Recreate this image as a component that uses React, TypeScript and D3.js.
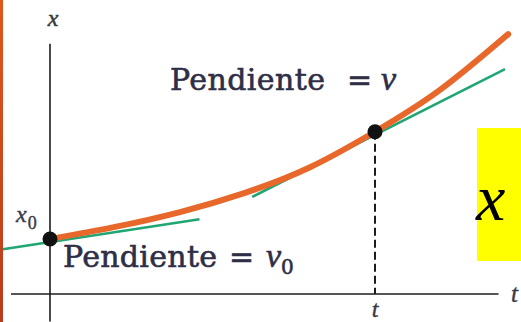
import React from "react";
import * as d3 from "d3";

// Position–time curve x(t), sampled along the drawn path
const timeValues = [0, 2, 4, 6, 8, 10, 12, 14.1];
const positionValues = [2.0, 2.44, 2.98, 3.68, 4.61, 5.9, 7.42, 9.45];

// Marked instants (start and t) and their positions
const markedTimes = [0, 10];
const markedPositions = [2.0, 5.9];

// Tangent segments (endpoints in t, x)
const tangentInitialT = [-1.45, 4.6];
const tangentInitialX = [1.63, 2.72];
const tangentLaterT = [6.22, 14.0];
const tangentLaterX = [3.53, 8.18];

// Axis extents
const timeAxisExtent = [-1.2, 13.8];
const positionAxisExtent = [-1.0, 9.1];

const W = 521;
const H = 322;

export default function App() {
  const tScale = d3.scaleLinear().domain([0, 14]).range([50, 505]);
  const xScale = d3.scaleLinear().domain([0, 10]).range([294, 19]);

  const curve = d3
    .line<number>()
    .x((_, i) => tScale(timeValues[i]))
    .y((d) => xScale(d))
    .curve(d3.curveNatural)(positionValues) as string;

  const seg = (ts: number[], xs: number[]) =>
    d3
      .line<number>()
      .x((_, i) => tScale(ts[i]))
      .y((d) => xScale(d))(xs) as string;

  const ax = tScale(0);
  const ay = xScale(0);
  const tMark = tScale(markedTimes[1]);

  const serif = "'DejaVu Serif', serif";
  const times = "'Liberation Serif', 'Times New Roman', serif";
  const textColor = "#2e2e46";
  const symColor = "#3a3a4a";

  return (
    <svg
      width={W}
      height={H}
      style={{ position: "fixed", left: 0, top: 0, display: "block", background: "#fff" }}
    >
      <defs>
        <linearGradient id="edge" x1="0" y1="0" x2="0" y2="1">
          <stop offset="0" stopColor="#e0571d" />
          <stop offset="1" stopColor="#b83c1c" />
        </linearGradient>
      </defs>
      <rect x={0} y={0} width={3} height={H} fill="url(#edge)" />

      {/* axes */}
      <line
        x1={ax}
        x2={ax}
        y1={xScale(positionAxisExtent[1])}
        y2={xScale(positionAxisExtent[0])}
        stroke="#1c1c1c"
        strokeWidth={1.6}
      />
      <line
        x1={tScale(timeAxisExtent[0])}
        x2={tScale(timeAxisExtent[1])}
        y1={ay}
        y2={ay}
        stroke="#1c1c1c"
        strokeWidth={1.6}
      />
      <text x={ax + 3} y={26} fontFamily={times} fontStyle="italic" fontSize={24} fill="#3a3a3a" stroke="#3a3a3a" strokeWidth={0.5} textAnchor="middle">
        x
      </text>
      <text x={tScale(timeAxisExtent[1]) + 16} y={302} fontFamily={times} fontStyle="italic" fontSize={25} fill={symColor} stroke={symColor} strokeWidth={0.4} textAnchor="middle">
        t
      </text>

      {/* dashed drop line at t */}
      <line
        x1={tMark}
        x2={tMark}
        y1={xScale(markedPositions[1])}
        y2={ay}
        stroke="#1c1c1c"
        strokeWidth={2}
        strokeDasharray="8,4"
      />
      <text x={tMark} y={317} fontFamily={times} fontStyle="italic" fontSize={24} fill={symColor} stroke={symColor} strokeWidth={0.4} textAnchor="middle">
        t
      </text>

      {/* tangents */}
      <path d={seg(tangentInitialT, tangentInitialX)} stroke="#1fa673" strokeWidth={2.6} fill="none" />
      <path d={seg(tangentLaterT, tangentLaterX)} stroke="#1fa673" strokeWidth={2.6} fill="none" />

      {/* position curve */}
      <path d={curve} stroke="#e8682b" strokeWidth={6} fill="none" strokeLinecap="round" />

      {/* marked points */}
      {markedTimes.map((t, i) => (
        <circle key={i} cx={tScale(t)} cy={xScale(markedPositions[i])} r={7.5} fill="#111" />
      ))}

      {/* labels */}
      <text x={16} y={222} fontFamily={times} fill={symColor} stroke={symColor} strokeWidth={0.4}>
        <tspan fontStyle="italic" fontSize={24}>x</tspan>
        <tspan fontSize={18} dy={7} dx={1}>0</tspan>
      </text>

      <text y={90} fontFamily={serif} fontSize={30} fill={textColor} stroke={textColor} strokeWidth={0.6}>
        <tspan x={170} textLength={155} lengthAdjust="spacing">Pendiente</tspan>
        <tspan x={347}>=</tspan>
        <tspan x={381} fontFamily={times} fontStyle="italic" fontSize={34}>v</tspan>
      </text>
      <text y={267} fontFamily={serif} fontSize={30} fill={textColor} stroke={textColor} strokeWidth={0.6}>
        <tspan x={63} textLength={154} lengthAdjust="spacing">Pendiente</tspan>
        <tspan x={229}>=</tspan>
        <tspan x={266} fontFamily={times} fontStyle="italic" fontSize={34}>v</tspan>
        <tspan fontSize={20} dy={7} dx={0}>0</tspan>
      </text>

      {/* highlighted symbol */}
      <rect x={477} y={128} width={W - 477} height={133} fill="#ffff00" />
      <text x={476} y={220} fontFamily={times} fontStyle="italic" fontSize={66} fill="#000">
        x
      </text>
    </svg>
  );
}
